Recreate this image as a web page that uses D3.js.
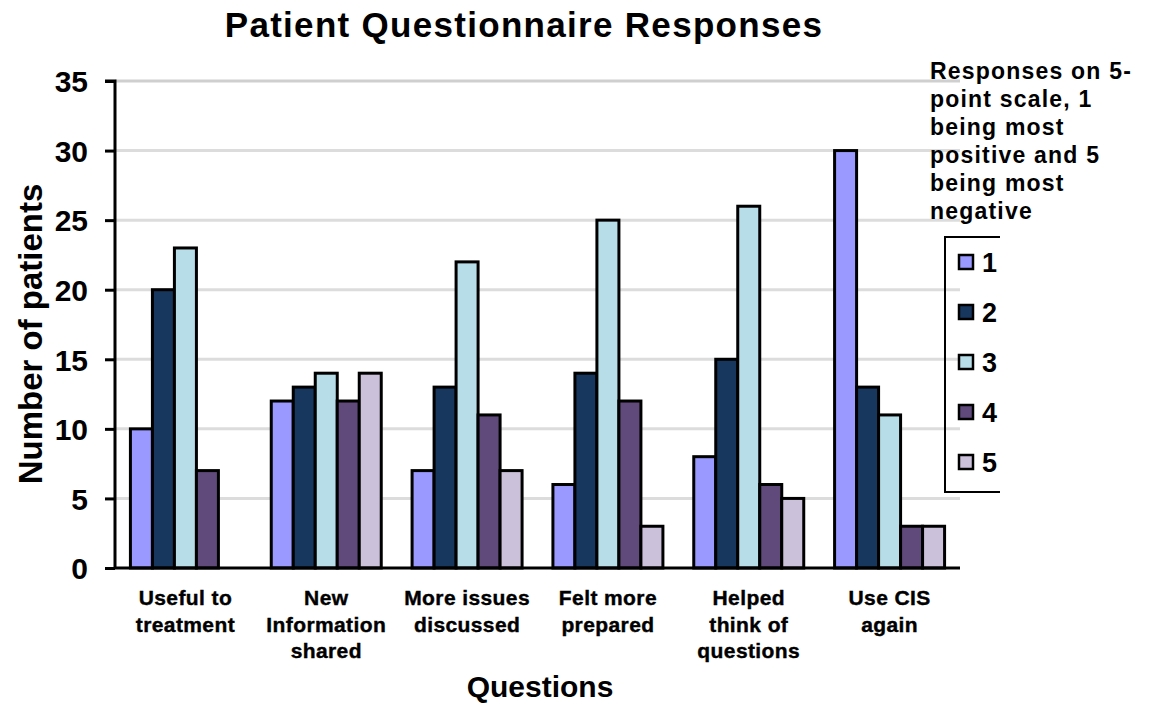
<!DOCTYPE html>
<head>
    <meta charset="utf-8">
    <script src="https://d3js.org/d3.v7.min.js"></script>
    <style>
        body {
            margin: 0;
            background: white;
        }
        text {
            font-family: "Liberation Sans", Arial, sans-serif;
            font-weight: bold;
            fill: black;
        }
    </style>
</head>

<body>
<svg id="chart" width="1161" height="704"></svg>
<script>

    // data
    const questions = ["Useful to treatment", "New Information shared", "More issues discussed",
        "Felt more prepared", "Helped think of questions", "Use CIS again"];
    const questionLines = [
        ["Useful to", "treatment"],
        ["New", "Information", "shared"],
        ["More issues", "discussed"],
        ["Felt more", "prepared"],
        ["Helped", "think of", "questions"],
        ["Use CIS", "again"]
    ];
    const responses = ["1", "2", "3", "4", "5"];
    const r1 = [10, 12, 7, 6, 8, 30];
    const r2 = [20, 13, 13, 14, 15, 13];
    const r3 = [23, 14, 22, 25, 26, 11];
    const r4 = [7, 12, 11, 12, 6, 3];
    const r5 = [0, 14, 7, 3, 5, 3];
    const yTicks = [0, 5, 10, 15, 20, 25, 30, 35];
    const legendTitle = ["Responses on 5-", "point scale, 1", "being most",
        "positive and 5", "being most", "negative"];

    const colors = ["#9999ff", "#17375e", "#b7dee8", "#604a7b", "#ccc1da"];

    const series = [r1, r2, r3, r4, r5];
    const data = questions.map(function (q, i) {
        return {q: q, values: responses.map(function (r, j) {
            return {key: r, value: series[j][i]};
        })};
    });

    const margin = {top: 81, left: 115, right: 201, bottom: 136};
    const W = 1161, H = 704;

    const svg = d3.select("#chart");

    const x = d3.scaleBand()
        .domain(questions)
        .range([margin.left, W - margin.right])
        .paddingInner(0.219)
        .paddingOuter(0.1095);

    const xSub = d3.scaleBand()
        .domain(responses)
        .range([0, x.bandwidth()]);

    const y = d3.scaleLinear()
        .domain([0, 35])
        .range([H - margin.bottom, margin.top]);

    const color = d3.scaleOrdinal().domain(responses).range(colors);

    // gridlines
    svg.append("g")
        .selectAll("line")
        .data(yTicks.filter(function (d) { return d > 0; }))
        .enter()
        .append("line")
        .attr("x1", margin.left)
        .attr("x2", W - margin.right)
        .attr("y1", function (d) { return y(d); })
        .attr("y2", function (d) { return y(d); })
        .style("stroke", function (d) { return d === 35 ? "#cfcfcf" : "#dcdcdc"; })
        .style("stroke-width", 3);

    // bars
    const groups = svg.append("g")
        .selectAll("g")
        .data(data)
        .enter()
        .append("g")
        .attr("transform", function (d) { return "translate(" + x(d.q) + ",0)"; });

    groups.selectAll("rect")
        .data(function (d) { return d.values.filter(function (v) { return v.value > 0; }); })
        .enter()
        .append("rect")
        .attr("x", function (d) { return xSub(d.key); })
        .attr("width", xSub.bandwidth())
        .attr("y", function (d) { return y(d.value); })
        .attr("height", function (d) { return y(0) - y(d.value); })
        .style("fill", function (d) { return color(d.key); })
        .style("stroke", "black")
        .style("stroke-width", 3);

    // y axis
    const yAxis = d3.axisLeft(y)
        .tickValues(yTicks)
        .tickSize(10)
        .tickPadding(17);

    const gy = svg.append("g")
        .attr("transform", "translate(" + margin.left + ",0)")
        .call(yAxis);
    gy.select(".domain").style("stroke", "black").style("stroke-width", 3)
        .attr("d", "M-10," + y(35) + "H0V" + y(0));
    gy.selectAll(".tick line").style("stroke", "black").style("stroke-width", 3);
    gy.selectAll(".tick text")
        .style("font-size", "30px")
        .style("font-family", "'Liberation Sans', Arial, sans-serif")
        .style("font-weight", "bold")
        .attr("dy", "0.36em");

    // x axis
    const xAxis = d3.axisBottom(x).tickSize(0).tickFormat("");
    const gx = svg.append("g")
        .attr("transform", "translate(0," + y(0) + ")")
        .call(xAxis);
    gx.select(".domain").style("stroke", "black").style("stroke-width", 3)
        .attr("d", "M" + margin.left + ",0H" + (W - margin.right));

    gx.selectAll(".tick text").remove();
    gx.selectAll(".tick")
        .append("text")
        .attr("text-anchor", "middle")
        .style("font-size", "21px")
        .style("letter-spacing", "0.4px")
        .style("stroke", "black")
        .style("stroke-width", 0.4)
        .each(function (d, i) {
            const t = d3.select(this);
            questionLines[i].forEach(function (line, k) {
                t.append("tspan")
                    .attr("x", 0)
                    .attr("y", 37 + k * 26.5)
                    .text(line);
            });
        });

    // title
    svg.append("text")
        .attr("x", 524)
        .attr("y", 37)
        .attr("text-anchor", "middle")
        .style("font-size", "35px")
        .style("letter-spacing", "1.3px")
        .text("Patient Questionnaire Responses");

    svg.append("text")
        .attr("x", 540)
        .attr("y", 697)
        .attr("text-anchor", "middle")
        .style("font-size", "30px")
        .text("Questions");

    svg.append("text")
        .attr("transform", "translate(42," + 334 + ") rotate(-90)")
        .attr("text-anchor", "middle")
        .style("font-size", "33px")
        .text("Number of patients");

    // legend
    const legendText = svg.append("text")
        .style("font-size", "23px")
        .style("letter-spacing", "1.2px");
    legendTitle.forEach(function (line, k) {
        legendText.append("tspan")
            .attr("x", 930)
            .attr("y", 79 + k * 28)
            .text(line);
    });

    svg.append("path")
        .attr("d", "M1000,237H945V492H1000")
        .style("fill", "none")
        .style("stroke", "black")
        .style("stroke-width", 2);

    const legend = svg.append("g");
    legend.selectAll("rect")
        .data(responses)
        .enter()
        .append("rect")
        .attr("x", 959)
        .attr("y", function (d, i) { return 255 + i * 50; })
        .attr("width", 14)
        .attr("height", 14)
        .style("fill", function (d) { return color(d); })
        .style("stroke", "black")
        .style("stroke-width", 2.5);

    legend.selectAll("text")
        .data(responses)
        .enter()
        .append("text")
        .attr("x", 982)
        .attr("y", function (d, i) { return 272 + i * 50; })
        .style("font-size", "27px")
        .text(function (d) { return d; });

</script>

</body>
